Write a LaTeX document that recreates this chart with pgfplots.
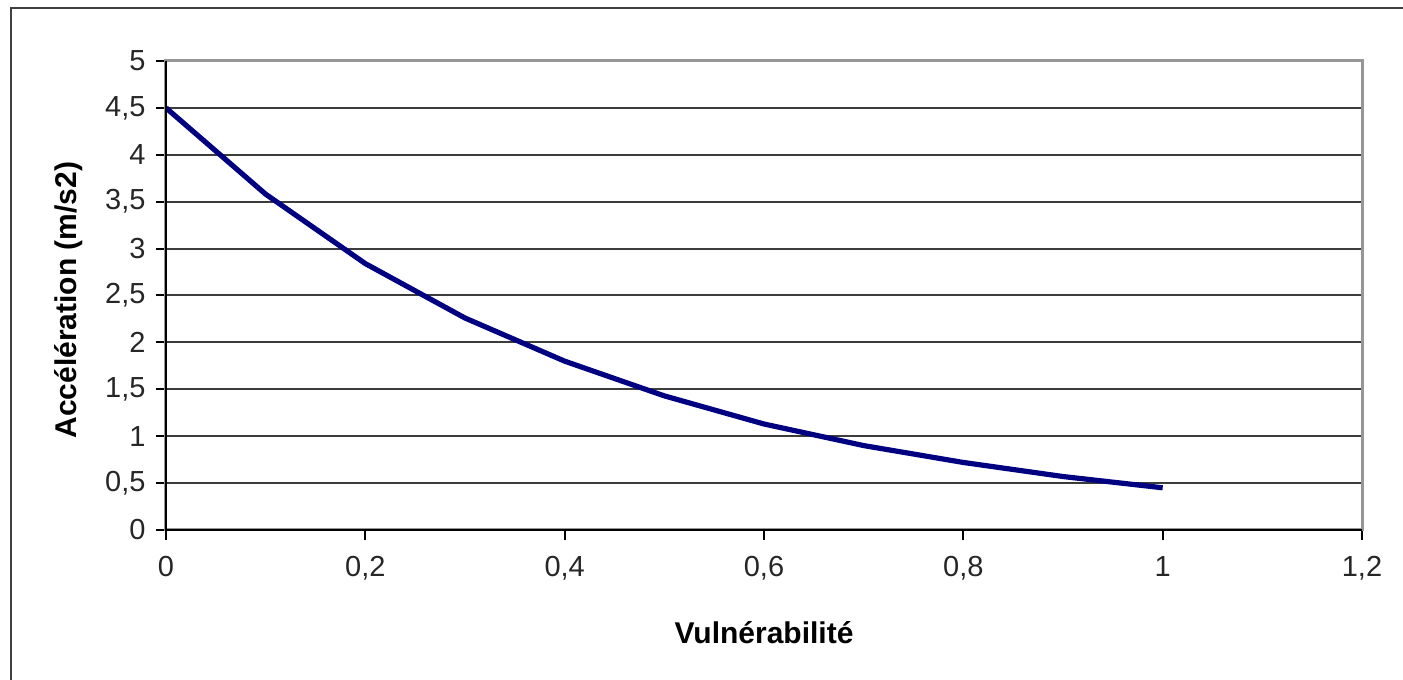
\documentclass[border=0pt]{standalone}
\usepackage{fontspec}
\setmainfont{Liberation Sans}
\usepackage{pgfplots}
\pgfplotsset{compat=1.18}
\definecolor{navyline}{RGB}{0,0,128}
\definecolor{gridgray}{RGB}{60,60,60}
\definecolor{boxgray}{RGB}{150,150,150}
\begin{document}
\begin{tikzpicture}
\path[use as bounding box] (-83pt,-75pt) rectangle (618.5pt,265pt);
\draw[line width=1pt, black!75] (-77.5pt,-80pt) -- (-77.5pt,261pt) -- (625pt,261pt);
\begin{axis}[
  scale only axis, width=598pt, height=234.5pt,
  xmin=0, xmax=1.2, ymin=0, ymax=5,
  xtick={0,0.2,0.4,0.6,0.8,1,1.2},
  ytick={0,0.5,1,1.5,2,2.5,3,3.5,4,4.5,5},
  /pgf/number format/.cd, use comma, 1000 sep={}, assume math mode=true,
  /pgfplots/.cd,
  axis line style={boxgray, line width=1.5pt},
  xtick pos=left, ytick pos=left,
  tick align=outside, major tick length=5pt,
  major tick style={black, line width=1pt},
  ymajorgrids, major grid style={gridgray, line width=1pt},
  tick label style={font=\fontsize{14.5}{17}\selectfont, text=black!85},
  yticklabel style={xshift=-1.7pt},
  xticklabel style={yshift=-4.5pt},
  xlabel={\textbf{Vulnérabilité}},
  ylabel={\textbf{Accélération (m/s2)}},
  label style={font=\fontsize{15}{18}\selectfont},
  xlabel style={at={(axis description cs:0.5,-0.2196)}, anchor=center},
  ylabel style={at={(axis description cs:-0.0811,0.490)}, anchor=center, rotate=0},
  after end axis/.code={
    \draw[black, line width=1pt] (rel axis cs:0,1) -- (rel axis cs:0,0) -- (rel axis cs:1,0);
  },
]
\addplot[navyline, line width=2.6pt, line join=round] coordinates {
  (0,4.50) (0.1,3.58) (0.2,2.84) (0.3,2.26) (0.4,1.80) (0.5,1.43)
  (0.6,1.13) (0.7,0.90) (0.8,0.72) (0.9,0.57) (1.0,0.45)
};
\end{axis}
\end{tikzpicture}
\end{document}
